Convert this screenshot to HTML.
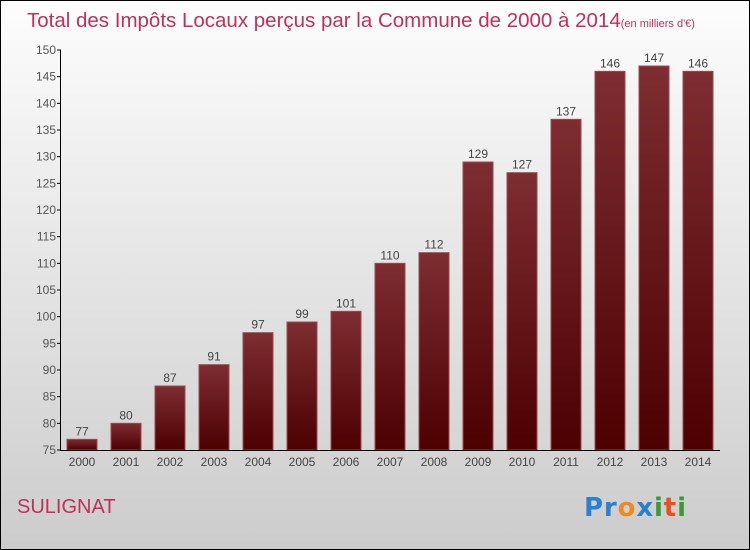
<!DOCTYPE html>
<html><head><meta charset="utf-8"><style>
body{margin:0;width:750px;height:550px;overflow:hidden}
svg{display:block}
</style></head><body>
<svg width="750" height="550" xmlns="http://www.w3.org/2000/svg" font-family="'Liberation Sans',sans-serif">
<defs>
<linearGradient id="bg" x1="0" y1="0" x2="0" y2="1"><stop offset="0" stop-color="#fdfdfd"/><stop offset="1" stop-color="#cccccc"/></linearGradient>
<linearGradient id="bar" x1="0" y1="0" x2="0" y2="1"><stop offset="0" stop-color="#7e2d31"/><stop offset="1" stop-color="#4c0000"/></linearGradient>
</defs>
<rect x="0.5" y="0.5" width="749" height="549" fill="url(#bg)" stroke="#000"/>
<text x="27" y="27" font-size="20.5" fill="#c0305a">Total des Impôts Locaux perçus par la Commune de 2000 à 2014<tspan font-size="11">(en milliers d'€)</tspan></text>
<g id="plot"></g>
<text x="17" y="513" font-size="20" fill="#c0305a">SULIGNAT</text>
<text x="584" y="516" font-size="26" font-weight="bold" font-family="'DejaVu Sans',sans-serif" textLength="102" lengthAdjust="spacing"><tspan fill="#2a7fd0">Pr</tspan><tspan fill="#f08a1c">o</tspan><tspan fill="#2a7fd0">x</tspan><tspan fill="#3a9a3a">i</tspan><tspan fill="#e8501c">t</tspan><tspan fill="#3a9a3a">i</tspan></text>
</svg>
<script>
const years=["2000","2001","2002","2003","2004","2005","2006","2007","2008","2009","2010","2011","2012","2013","2014"];
const values=[77,80,87,91,97,99,101,110,112,129,127,137,146,147,146];
const yTicks=[75,80,85,90,95,100,105,110,115,120,125,130,135,140,145,150];
const NS="http://www.w3.org/2000/svg";
const g=document.getElementById('plot');
const y=v=>450-(v-75)*400/75;
const x=i=>82+i*44;
function el(t,a,txt){const e=document.createElementNS(NS,t);for(const k in a)e.setAttribute(k,a[k]);if(txt!==undefined)e.textContent=txt;g.appendChild(e);return e;}
values.forEach((v,i)=>{
  const r=el('rect',{x:x(i)-15,y:y(v),width:30,height:450-y(v),fill:'url(#bar)',stroke:'#9a4a4e','stroke-width':1});
  
  
  const t=el('text',{x:x(i),y:y(v)-4,'text-anchor':'middle','font-size':12,fill:'#444'},String(v));
  
  
  const xl=el('text',{x:x(i),y:466,'text-anchor':'middle','font-size':12,fill:'#444'},years[i]);
  
  
});
yTicks.forEach(v=>{
  const l=el('line',{x1:57,x2:61,y1:y(v),y2:y(v),stroke:'#000'});
  
  
  const t=el('text',{x:56,y:y(v)+4,'text-anchor':'end','font-size':12,fill:'#555'},String(v));
  
  
});
const ya=el('line',{x1:60.5,x2:60.5,y1:50,y2:450,stroke:'#000'});


const xa=el('line',{x1:60,x2:720,y1:450.5,y2:450.5,stroke:'#000'});


</script>
</body></html>
